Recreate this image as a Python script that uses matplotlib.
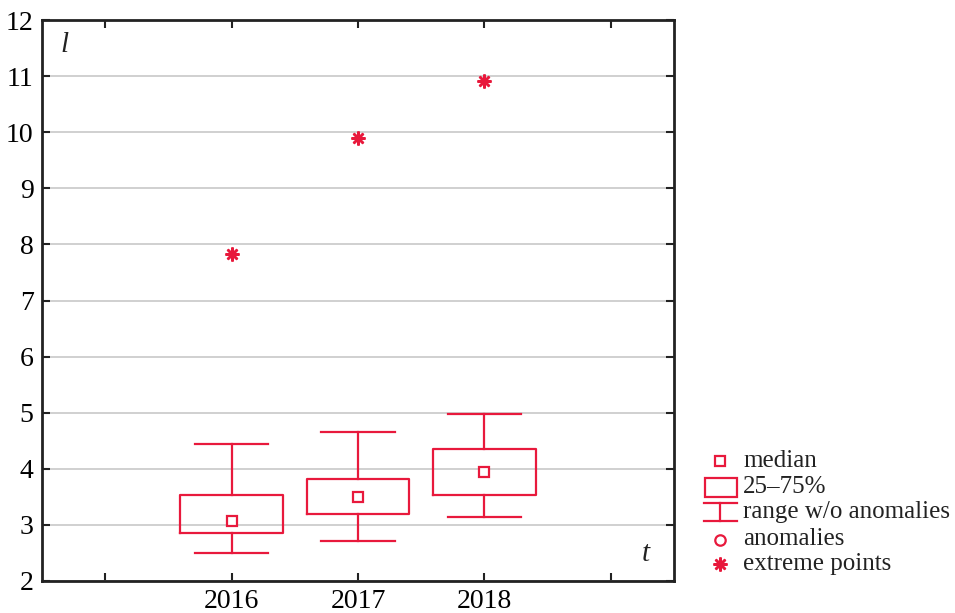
import matplotlib
matplotlib.use("Agg")
import matplotlib.pyplot as plt
from matplotlib.patches import Rectangle
from matplotlib.lines import Line2D

years = ["2016", "2017", "2018"]
whisker_low = [2.50, 2.72, 3.14]
q1 = [2.86, 3.20, 3.53]
median = [3.07, 3.50, 3.94]
q3 = [3.53, 3.81, 4.35]
whisker_high = [4.44, 4.66, 4.97]
extreme = [7.82, 9.90, 10.92]

RED = "#e8193c"
plt.rcParams["font.family"] = ["Liberation Serif", "DejaVu Serif"]

fig = plt.figure(figsize=(9.55, 6.13), dpi=100)
ax = fig.add_axes([42 / 955, 32 / 613, 632 / 955, 561 / 613])

pos = [1, 2, 3]
stats = []
for i, y in enumerate(years):
    stats.append(dict(label=y, whislo=whisker_low[i], q1=q1[i], med=median[i],
                      q3=q3[i], whishi=whisker_high[i], fliers=[]))

ax.bxp(stats, positions=pos, widths=0.81, capwidths=0.58, showfliers=False,
       boxprops=dict(color=RED, linewidth=1.6),
       whiskerprops=dict(color=RED, linewidth=1.6),
       capprops=dict(color=RED, linewidth=1.6),
       medianprops=dict(linestyle="none"), zorder=3)
ax.plot(pos, median, linestyle="none", marker="s", markersize=7.5,
        markerfacecolor="white", markeredgecolor=RED, markeredgewidth=1.6, zorder=4)
ax.plot(pos, extreme, linestyle="none", marker=(8, 2, 0), markersize=10,
        markeredgecolor=RED, markeredgewidth=1.8, zorder=4)

ax.set_xlim(-0.5, 4.5)
ax.set_ylim(2, 12)
ax.set_xticks([0, 1, 2, 3, 4])
ax.set_xticklabels(["", "2016", "2017", "2018", ""])
ax.set_yticks(range(2, 13))
ax.yaxis.grid(True, color="#c8c8c8", linewidth=1.2)
ax.set_axisbelow(True)
ax.tick_params(direction="in", length=6, width=1.5, color="#222222",
               labelsize=20, top=True, right=True, pad=6)
for s in ax.spines.values():
    s.set_linewidth(2)
    s.set_color("#222222")

ax.text(0.035, 0.955, "l", transform=ax.transAxes, fontsize=21, style="italic",
        ha="center", va="center", color="#222222")
ax.text(0.955, 0.048, "t", transform=ax.transAxes, fontsize=21, style="italic",
        ha="center", va="center", color="#222222")

# legend in pixel coordinates
lg = fig.add_axes([0, 0, 1, 1], zorder=5)
lg.set_xlim(0, 955)
lg.set_ylim(613, 0)
lg.axis("off")
lg.plot([720], [461], marker="s", markersize=7.5, markerfacecolor="white",
        markeredgecolor=RED, markeredgewidth=1.6)
lg.add_patch(Rectangle((705, 478), 32, 19, fill=False, edgecolor=RED, linewidth=1.6))
lg.add_line(Line2D([704, 737], [503, 503], color=RED, linewidth=1.6))
lg.add_line(Line2D([720, 720], [503, 521], color=RED, linewidth=1.6))
lg.add_line(Line2D([704, 737], [521, 521], color=RED, linewidth=1.6))
lg.plot([720], [540], marker="o", markersize=7.5, markerfacecolor="white",
        markeredgecolor=RED, markeredgewidth=1.6)
lg.plot([720], [564], marker=(8, 2, 0), markersize=10, markeredgecolor=RED,
        markeredgewidth=1.8)
labels = ["median", "25\u201375%", "range w/o anomalies", "anomalies", "extreme points"]
ys = [461, 487, 512, 539, 564]
for t, y in zip(labels, ys):
    lg.text(743, y, t, fontsize=18, va="center", ha="left", color="#222222")

fig.savefig("out.png", dpi=100)
